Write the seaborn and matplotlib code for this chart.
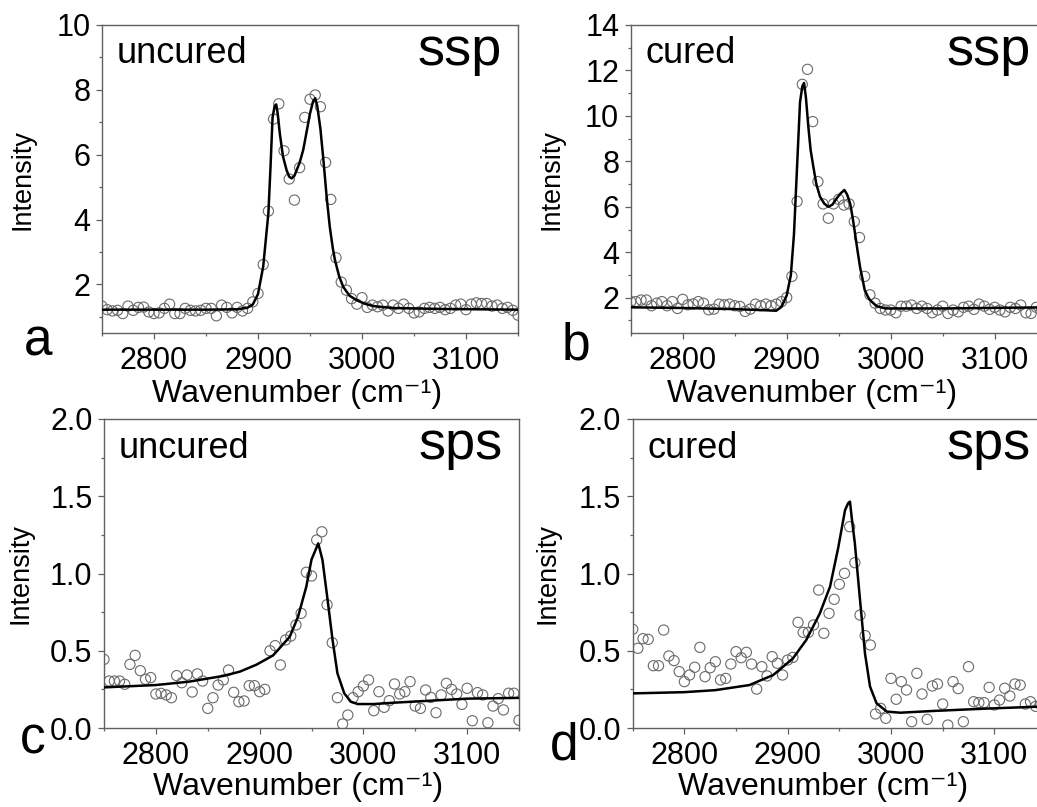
import matplotlib
matplotlib.use("Agg")
import matplotlib.pyplot as plt
import seaborn as sns
import pandas as pd
from matplotlib.ticker import MultipleLocator

# ---------------- data ----------------
wavenumber = list(range(2750, 3155, 5))

ssp_uncured = [1.33,1.22,1.18,1.20,1.10,1.33,1.20,1.29,1.30,1.15,
               1.10,1.12,1.26,1.39,1.10,1.10,1.26,1.20,1.18,1.20,
               1.26,1.26,1.03,1.36,1.29,1.12,1.29,1.18,1.26,1.46,
               1.72,2.61,4.26,7.10,7.57,6.12,5.25,4.60,5.60,7.15,
               7.71,7.84,7.48,5.76,4.62,2.82,2.07,1.82,1.56,1.39,
               1.59,1.29,1.36,1.31,1.36,1.18,1.36,1.26,1.39,1.26,
               1.12,1.15,1.26,1.29,1.26,1.29,1.22,1.26,1.36,1.39,
               1.22,1.39,1.43,1.41,1.41,1.33,1.36,1.26,1.29,1.20,1.05]

ssp_cured = [1.83,1.83,1.90,1.90,1.65,1.76,1.83,1.65,1.83,1.53,
             1.93,1.69,1.73,1.83,1.76,1.47,1.50,1.72,1.69,1.72,
             1.65,1.62,1.40,1.50,1.72,1.65,1.72,1.65,1.72,1.83,
             2.01,2.94,6.24,11.39,12.05,9.75,7.11,6.13,5.50,6.13,
             6.33,6.08,6.13,5.35,4.65,2.94,2.13,1.76,1.53,1.46,
             1.46,1.34,1.63,1.63,1.68,1.53,1.63,1.53,1.34,1.46,
             1.63,1.31,1.46,1.38,1.58,1.63,1.49,1.72,1.63,1.49,
             1.58,1.46,1.38,1.58,1.53,1.68,1.34,1.31,1.58,1.50,1.50]

sps_uncured = [0.444,0.304,0.304,0.304,0.283,0.412,0.470,0.371,0.315,0.326,
               0.220,0.224,0.214,0.196,0.339,0.293,0.343,0.233,0.350,0.304,
               0.127,0.196,0.278,0.311,0.375,0.231,0.170,0.175,0.274,0.274,
               0.235,0.250,0.500,0.533,0.408,0.570,0.595,0.667,0.742,1.008,
               0.984,1.217,1.270,0.798,0.552,0.196,0.026,0.084,0.196,0.235,
               0.272,0.311,0.112,0.235,0.134,0.177,0.285,0.220,0.235,0.300,
               0.142,0.127,0.246,0.198,0.099,0.214,0.289,0.250,0.220,0.153,
               0.257,0.047,0.229,0.214,0.034,0.142,0.190,0.117,0.225,0.225,0.050]

sps_cured = [0.639,0.516,0.578,0.574,0.403,0.403,0.634,0.466,0.436,0.365,
             0.300,0.343,0.393,0.522,0.332,0.390,0.429,0.311,0.321,0.414,
             0.494,0.455,0.490,0.414,0.252,0.397,0.337,0.462,0.419,0.343,
             0.440,0.457,0.684,0.619,0.619,0.667,0.893,0.613,0.742,0.833,
             0.930,1.001,1.303,1.070,0.731,0.598,0.537,0.091,0.127,0.063,
             0.321,0.186,0.300,0.246,0.041,0.354,0.220,0.056,0.272,0.285,
             0.155,0.019,0.300,0.255,0.041,0.397,0.170,0.164,0.164,0.263,
             0.149,0.181,0.257,0.207,0.285,0.278,0.155,0.170,0.140,0.150,0.150]

# fitted curves
fit_a_x = [2750,2850,2880,2890,2895,2900,2905,2910,2912,2914,2916,2917.5,2919,2921,2924,
           2927.5,2930,2932.5,2935,2940,2943.5,2947,2950,2953,2955,2957,2960,2963,2966,
           2969,2972,2974,2978,2982,2988,2995,3003,3011,3030,3080,3150]
fit_a_y = [1.22,1.22,1.23,1.28,1.38,1.70,2.55,4.20,5.60,7.15,7.50,7.55,7.25,6.65,5.95,
           5.52,5.32,5.27,5.35,5.75,6.15,6.75,7.27,7.65,7.74,7.50,6.80,5.80,4.70,
           3.78,3.10,2.75,2.25,1.92,1.65,1.51,1.40,1.33,1.27,1.24,1.22]

fit_b_x = [2750,2800,2850,2880,2890,2895,2900,2904,2907,2909.6,2912.8,2915,2916.7,2918.5,
           2920.8,2923,2925.6,2928.5,2932,2936,2940,2944,2948,2952,2955.5,2958,2961,
           2963.5,2965.7,2968,2970.5,2973,2975,2978,2980,2986.5,2995,3050,3150]
fit_b_y = [1.58,1.55,1.50,1.45,1.43,1.60,2.10,3.00,4.80,7.40,10.60,11.30,11.45,10.80,
           9.53,8.50,7.77,7.00,6.45,6.15,6.00,6.10,6.37,6.60,6.74,6.55,6.15,
           5.50,4.83,4.10,3.36,2.80,2.34,2.05,1.90,1.63,1.53,1.53,1.58]

fit_c_x = [2750,2800,2832,2865,2881,2897,2913,2929,2937,2945,2950,2956.5,2960.6,2965.5,
           2970.3,2975,2981.6,2988,2994.5,3010,3030,3060,3100,3150]
fit_c_y = [0.263,0.278,0.300,0.337,0.365,0.410,0.470,0.590,0.720,0.915,1.090,1.195,1.087,
           0.830,0.570,0.354,0.224,0.170,0.155,0.155,0.164,0.175,0.190,0.195]

fit_d_x = [2750,2800,2830,2863,2886,2905,2918,2931,2941,2949,2955.5,2958.5,2960.3,2962,
           2965,2970,2974.8,2979.7,2986,2996,3009,3040,3090,3150]
fit_d_y = [0.224,0.232,0.245,0.278,0.343,0.450,0.570,0.740,0.915,1.170,1.410,1.455,1.465,
           1.360,1.195,0.830,0.483,0.268,0.160,0.106,0.099,0.110,0.125,0.140]

panels = [
    dict(letter="a", sample="uncured", pol="ssp", y=ssp_uncured, fx=fit_a_x, fy=fit_a_y,
         ylim=(0.5, 10), major=2, minor=1, fmt="{:.0f}"),
    dict(letter="b", sample="cured", pol="ssp", y=ssp_cured, fx=fit_b_x, fy=fit_b_y,
         ylim=(0.45, 14), major=2, minor=1, fmt="{:.0f}"),
    dict(letter="c", sample="uncured", pol="sps", y=sps_uncured, fx=fit_c_x, fy=fit_c_y,
         ylim=(0, 2.0), major=0.5, minor=0.25, fmt="{:.1f}"),
    dict(letter="d", sample="cured", pol="sps", y=sps_cured, fx=fit_d_x, fy=fit_d_y,
         ylim=(0, 2.0), major=0.5, minor=0.25, fmt="{:.1f}"),
]

# ---------------- style ----------------
sns.set_theme(style="ticks")
FONT = ["Liberation Sans", "DejaVu Sans"]
plt.rcParams["font.family"] = FONT
plt.rcParams["text.color"] = "black"
plt.rcParams["axes.labelcolor"] = "black"
plt.rcParams["axes.edgecolor"] = "#606060"
plt.rcParams["axes.linewidth"] = 1.0

W, H = 1037, 807
fig = plt.figure(figsize=(W / 100, H / 100), dpi=100)

# axes boxes in pixels: left, top, right, bottom
boxes = [(102, 25, 518, 333), (630.7, 25, 1046.7, 333),
         (104, 419, 519, 728), (632.7, 419, 1046, 728)]
letter_pos = [(24, 355), (562, 360), (20, 753), (550, 759)]
xlabel_pos = [(0.469, 402), (0.436, 402), (0.467, 795), (0.46, 795)]
ylabel_gap = [67, 66, 71, 72]

for p, (l, t, r, b), (lx, ly), (xlx, xly), yg in zip(panels, boxes, letter_pos,
                                                     xlabel_pos, ylabel_gap):
    ax = fig.add_axes([l / W, 1 - b / H, (r - l) / W, (b - t) / H])
    df = pd.DataFrame({"Wavenumber": wavenumber, "Intensity": p["y"]})
    fit = pd.DataFrame({"Wavenumber": p["fx"], "Intensity": p["fy"]})
    sns.scatterplot(data=df, x="Wavenumber", y="Intensity", ax=ax, s=54,
                    marker="o", facecolors="none", edgecolor="#6a6a6a",
                    linewidth=0.8, zorder=2)
    sns.lineplot(data=fit, x="Wavenumber", y="Intensity", ax=ax, color="black",
                 linewidth=1.8, zorder=3, estimator=None, sort=False)
    ax.set_xlim(2750, 3150)
    ax.set_ylim(*p["ylim"])
    ax.xaxis.set_major_locator(MultipleLocator(100))
    ax.xaxis.set_minor_locator(MultipleLocator(50))
    ax.yaxis.set_major_locator(MultipleLocator(p["major"]))
    ax.yaxis.set_minor_locator(MultipleLocator(p["minor"]))
    yt = [v for v in ax.get_yticks() if p["ylim"][0] - 1e-9 <= v <= p["ylim"][1] + 1e-9]
    ax.set_yticks(yt)
    ax.set_yticklabels([p["fmt"].format(v) for v in yt])
    ax.tick_params(axis="both", which="major", direction="out", length=4.3, width=0.9,
                   color="#606060", labelsize=22, pad=4, labelcolor="black")
    ax.tick_params(axis="both", which="minor", direction="out", length=2.2, width=0.9,
                   color="#606060")
    ax.tick_params(axis="x", which="major", pad=5)
    for s in ax.spines.values():
        s.set_visible(True)
        s.set_color("#606060")
        s.set_linewidth(1.0)
    ax.set_xlabel("Wavenumber (cm\u207b\u00b9)", fontsize=23, color="black")
    ax.xaxis.set_label_coords(xlx, -(xly - b) / (b - t))
    ax.xaxis.label.set_va("baseline")
    ax.set_ylabel("Intensity", fontsize=19.5, color="black")
    ax.yaxis.set_label_coords(-yg / (r - l), 0.5)
    ax.text(0.035, 0.875, p["sample"], transform=ax.transAxes, fontsize=26,
            ha="left", va="baseline", color="black")
    ax.text(0.962, 0.87, p["pol"], transform=ax.transAxes, fontsize=39,
            ha="right", va="baseline", color="black")
    fig.text(lx / W, 1 - ly / H, p["letter"], fontsize=37, ha="left", va="baseline",
             color="black")

fig.savefig("out.png", dpi=100)
